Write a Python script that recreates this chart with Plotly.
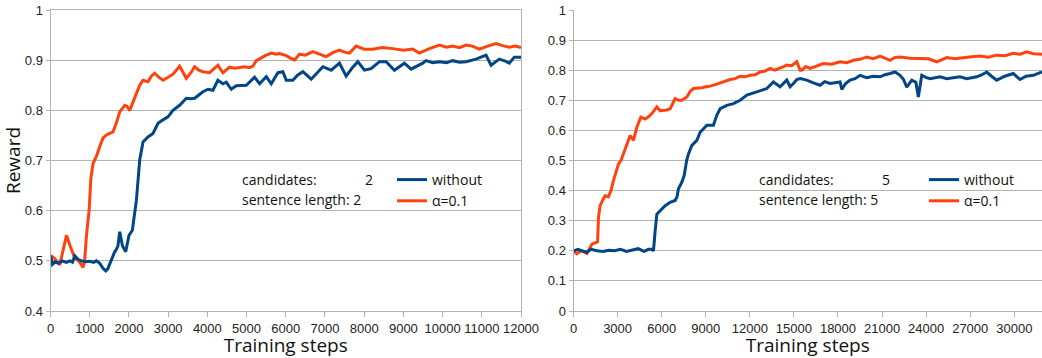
import plotly.graph_objects as go

# ---------------- data ----------------
left_steps_alpha = [0, 100, 237, 320, 407, 500, 620, 720, 830, 870, 917, 985, 1030, 1086, 1180, 1256, 1340, 1426,
                    1595, 1680, 1766, 1893, 1950, 2020, 2148, 2275, 2360, 2487, 2570, 2657, 2760, 2869, 3000, 3124,
                    3294, 3380, 3464, 3580, 3676, 3780, 3888, 4058, 4270, 4397, 4568, 4700, 4823, 4950, 5078, 5160,
                    5248, 5380, 5503, 5640, 5758, 5842, 6013, 6100, 6223, 6351, 6500, 6691, 6850, 7031, 7200, 7370,
                    7500, 7625, 7795, 8000, 8220, 8450, 8730, 9000, 9238, 9408, 9663, 9918, 10100, 10258, 10430,
                    10598, 10760, 10937, 11150, 11362, 11530, 11701, 11850, 12000]
left_reward_alpha = [0.511, 0.505, 0.492, 0.52, 0.551, 0.53, 0.505, 0.50, 0.487, 0.50, 0.55, 0.60, 0.665, 0.694,
                     0.71, 0.728, 0.745, 0.751, 0.757, 0.775, 0.797, 0.81, 0.808, 0.80, 0.827, 0.85, 0.86, 0.857,
                     0.868, 0.874, 0.866, 0.86, 0.866, 0.872, 0.888, 0.875, 0.864, 0.875, 0.887, 0.880, 0.877, 0.875,
                     0.89, 0.875, 0.886, 0.884, 0.886, 0.887, 0.885, 0.888, 0.899, 0.905, 0.910, 0.914, 0.912, 0.913,
                     0.909, 0.905, 0.900, 0.912, 0.910, 0.917, 0.912, 0.907, 0.915, 0.920, 0.916, 0.914, 0.928, 0.922,
                     0.922, 0.925, 0.923, 0.920, 0.922, 0.914, 0.923, 0.930, 0.926, 0.928, 0.925, 0.930, 0.928, 0.922,
                     0.928, 0.933, 0.929, 0.926, 0.928, 0.925]

left_steps_without = [0, 50, 120, 200, 300, 400, 500, 560, 620, 700, 800, 900, 1000, 1100, 1171, 1256, 1340, 1409,
                      1460, 1511, 1553, 1638, 1681, 1720, 1766, 1834, 1918, 2003, 2088, 2148, 2191, 2233, 2275, 2360,
                      2487, 2614, 2742, 2869, 2996, 3124, 3294, 3464, 3570, 3676, 3888, 4015, 4143, 4270, 4397, 4482,
                      4610, 4737, 4993, 5205, 5333, 5503, 5630, 5800, 5927, 6013, 6181, 6300, 6437, 6649, 6800, 6946,
                      7158, 7370, 7540, 7700, 7837, 8007, 8177, 8389, 8560, 8771, 9026, 9197, 9493, 9578, 9750, 9918,
                      10100, 10258, 10430, 10598, 10853, 11108, 11235, 11447, 11600, 11701, 11829, 12000]
left_reward_without = [0.51, 0.493, 0.498, 0.495, 0.50, 0.497, 0.50, 0.497, 0.51, 0.503, 0.50, 0.498, 0.499, 0.497,
                       0.50, 0.495, 0.485, 0.480, 0.484, 0.494, 0.505, 0.518, 0.523, 0.53, 0.558, 0.53, 0.518, 0.551,
                       0.561, 0.595, 0.621, 0.661, 0.701, 0.737, 0.747, 0.754, 0.774, 0.781, 0.787, 0.80, 0.81, 0.824,
                       0.823, 0.824, 0.837, 0.842, 0.84, 0.86, 0.853, 0.856, 0.842, 0.849, 0.85, 0.866, 0.853, 0.867,
                       0.853, 0.875, 0.877, 0.86, 0.86, 0.87, 0.877, 0.862, 0.875, 0.887, 0.88, 0.894, 0.868, 0.885,
                       0.897, 0.88, 0.883, 0.897, 0.897, 0.88, 0.894, 0.882, 0.894, 0.899, 0.895, 0.897, 0.895, 0.899,
                       0.896, 0.897, 0.902, 0.910, 0.89, 0.902, 0.898, 0.894, 0.906, 0.906]

right_steps_alpha = [0, 231, 500, 700, 912, 1100, 1251, 1544, 1640, 1701, 1816, 2000, 2156, 2381, 2550, 2721, 2837,
                     3061, 3230, 3401, 3630, 3857, 4082, 4313, 4585, 4878, 5100, 5333, 5673, 5900, 6122, 6350, 6578,
                     6918, 7150, 7374, 7714, 7950, 8163, 8450, 8735, 9000, 9300, 9650, 9980, 10320, 10660, 11000,
                     11340, 11680, 12020, 12360, 12700, 13040, 13380, 13700, 14061, 14300, 14512, 14850, 15197, 15422,
                     15537, 15800, 16102, 16550, 17007, 17570, 18143, 18600, 19048, 19500, 19959, 20400, 20864, 21200,
                     21544, 21880, 22224, 22900, 23585, 24150, 24721, 25050, 25401, 25960, 26531, 27100, 27667, 28230,
                     28803, 29370, 29932, 30400, 30844, 31300, 31884]
right_reward_alpha = [0.20, 0.19, 0.20, 0.197, 0.191, 0.21, 0.222, 0.228, 0.23, 0.311, 0.35, 0.37, 0.383, 0.38,
                      0.40, 0.433, 0.45, 0.489, 0.50, 0.522, 0.556, 0.583, 0.567, 0.611, 0.644, 0.638, 0.645, 0.656,
                      0.678, 0.665, 0.667, 0.668, 0.672, 0.706, 0.70, 0.70, 0.711, 0.73, 0.739, 0.74, 0.742, 0.745,
                      0.747, 0.752, 0.758, 0.762, 0.769, 0.772, 0.78, 0.778, 0.783, 0.785, 0.794, 0.797, 0.806, 0.80,
                      0.806, 0.812, 0.817, 0.815, 0.828, 0.80, 0.80, 0.812, 0.806, 0.815, 0.822, 0.82, 0.828, 0.825,
                      0.833, 0.836, 0.844, 0.838, 0.847, 0.84, 0.833, 0.842, 0.844, 0.84, 0.839, 0.838, 0.828, 0.836,
                      0.842, 0.838, 0.842, 0.845, 0.847, 0.843, 0.85, 0.848, 0.856, 0.853, 0.861, 0.855, 0.853]

right_steps_without = [0, 300, 600, 900, 1200, 1600, 2000, 2400, 2800, 3200, 3600, 4000, 4400, 4800, 5100, 5333,
                       5442, 5558, 5673, 5898, 6238, 6578, 6918, 7050, 7143, 7374, 7531, 7700, 7823, 8054, 8395, 8619,
                       9075, 9524, 9750, 9980, 10435, 10884, 11340, 11796, 12245, 12700, 13156, 13605, 14061, 14512,
                       14741, 14966, 15197, 15422, 15877, 16327, 16780, 17100, 17463, 18143, 18258, 18500, 18823, 19160,
                       19503, 19950, 20408, 20864, 21200, 21544, 21884, 22224, 22450, 22680, 23020, 23300, 23470, 23701,
                       23980, 24265, 24600, 24946, 25400, 25850, 26300, 26762, 27100, 27442, 27800, 28122, 28450, 28803,
                       29350, 29932, 30388, 30800, 31293, 31884]
right_reward_without = [0.20, 0.205, 0.20, 0.195, 0.205, 0.20, 0.198, 0.202, 0.20, 0.205, 0.198, 0.203, 0.207,
                        0.198, 0.205, 0.205, 0.20, 0.267, 0.322, 0.333, 0.35, 0.361, 0.367, 0.38, 0.406, 0.428, 0.45,
                        0.50, 0.522, 0.55, 0.567, 0.594, 0.617, 0.617, 0.65, 0.672, 0.683, 0.689, 0.70, 0.717, 0.724,
                        0.733, 0.739, 0.761, 0.745, 0.767, 0.745, 0.756, 0.769, 0.772, 0.767, 0.758, 0.75, 0.762, 0.756,
                        0.761, 0.736, 0.755, 0.767, 0.772, 0.783, 0.775, 0.78, 0.778, 0.785, 0.789, 0.794, 0.783, 0.77,
                        0.744, 0.767, 0.76, 0.711, 0.783, 0.776, 0.772, 0.776, 0.778, 0.772, 0.775, 0.778, 0.772, 0.776,
                        0.778, 0.785, 0.794, 0.78, 0.767, 0.78, 0.789, 0.769, 0.78, 0.783, 0.794]

series_names = ["without", "α=0.1"]
left_info = ["candidates:", "2", "sentence length: 2"]
right_info = ["candidates:", "5", "sentence length: 5"]

# ---------------- styling ----------------
W, H = 1042, 358
BLUE = "#004586"
ORANGE = "#ff420e"
GRID = "#b3b3b3"
TICKFONT = dict(family="Liberation Sans, Arial, sans-serif", size=13, color="#222222")
TXTFONT = dict(family="Open Sans, sans-serif", size=14, color="#111111")
TITLEFONT = dict(family="Open Sans, sans-serif", size=19, color="#111111")
TOP, BOT = 10, 311


def px_x(px):
    return px / W


def px_y(py):
    return (BOT - py) / (BOT - TOP)


fig = go.Figure()
lw = 3
fig.add_trace(go.Scatter(x=left_steps_alpha, y=left_reward_alpha, mode="lines", name=series_names[1],
                         line=dict(color=ORANGE, width=lw), xaxis="x", yaxis="y", legend="legend", legendrank=2))
fig.add_trace(go.Scatter(x=left_steps_without, y=left_reward_without, mode="lines", name=series_names[0],
                         line=dict(color=BLUE, width=lw), xaxis="x", yaxis="y", legend="legend", legendrank=1))
fig.add_trace(go.Scatter(x=right_steps_alpha, y=right_reward_alpha, mode="lines", name=series_names[1],
                         line=dict(color=ORANGE, width=lw), xaxis="x2", yaxis="y2", legend="legend2", legendrank=2))
fig.add_trace(go.Scatter(x=right_steps_without, y=right_reward_without, mode="lines", name=series_names[0],
                         line=dict(color=BLUE, width=lw), xaxis="x2", yaxis="y2", legend="legend2", legendrank=1))

common_x = dict(showgrid=False, showline=True, linecolor=GRID, linewidth=1, ticks="outside", ticklen=5,
                tickcolor=GRID, tickfont=TICKFONT, tickangle=0, tickformat="d", zeroline=False,
                automargin=False, title_font=TITLEFONT, title_standoff=2)
common_y = dict(showgrid=True, gridcolor=GRID, gridwidth=1, showline=True, linecolor=GRID, linewidth=1,
                ticks="outside", ticklen=4, tickcolor=GRID, tickfont=TICKFONT, zeroline=False, dtick=0.1,
                automargin=False)

fig.update_layout(
    width=W, height=H,
    margin=dict(l=0, r=0, t=TOP, b=H - BOT, pad=0, autoexpand=False),
    paper_bgcolor="white", plot_bgcolor="white",
    xaxis=dict(domain=[px_x(50.5), px_x(521)], range=[0, 12000], dtick=1000, mirror=True,
               title_text="Training steps", **common_x),
    yaxis=dict(range=[0.4, 1.0], mirror=True, title_text="Reward", title_font=TITLEFONT, title_standoff=4,
               **common_y),
    xaxis2=dict(domain=[px_x(573.5), 1.0], range=[0, 31884], dtick=3000, anchor="y2",
                title_text="Training steps", **common_x),
    yaxis2=dict(range=[0, 1.0], anchor="x2", **common_y),
    legend=dict(x=px_x(392), y=px_y(164), xanchor="left", yanchor="top", bgcolor="rgba(0,0,0,0)",
                font=TXTFONT, tracegroupgap=0, itemwidth=30),
    legend2=dict(x=px_x(924), y=px_y(164), xanchor="left", yanchor="top", bgcolor="rgba(0,0,0,0)",
                 font=TXTFONT, tracegroupgap=0, itemwidth=30),
    showlegend=True,
)

annots = []
for info, x0, xnum in [(left_info, 240, 363), (right_info, 757, 880)]:
    annots.append(dict(text=info[0], x=px_x(x0), y=px_y(180), xref="paper", yref="paper",
                       xanchor="left", yanchor="middle", showarrow=False, font=TXTFONT))
    annots.append(dict(text=info[1], x=px_x(xnum), y=px_y(180), xref="paper", yref="paper",
                       xanchor="left", yanchor="middle", showarrow=False, font=TXTFONT))
    annots.append(dict(text=info[2], x=px_x(x0), y=px_y(199), xref="paper", yref="paper",
                       xanchor="left", yanchor="middle", showarrow=False, font=TXTFONT))
fig.update_layout(annotations=annots)

fig.write_html("out.html",
               config={"displayModeBar": False},
               post_script="document.body.style.margin='0';document.body.style.padding='0';"
                           "document.body.style.overflow='hidden';")
